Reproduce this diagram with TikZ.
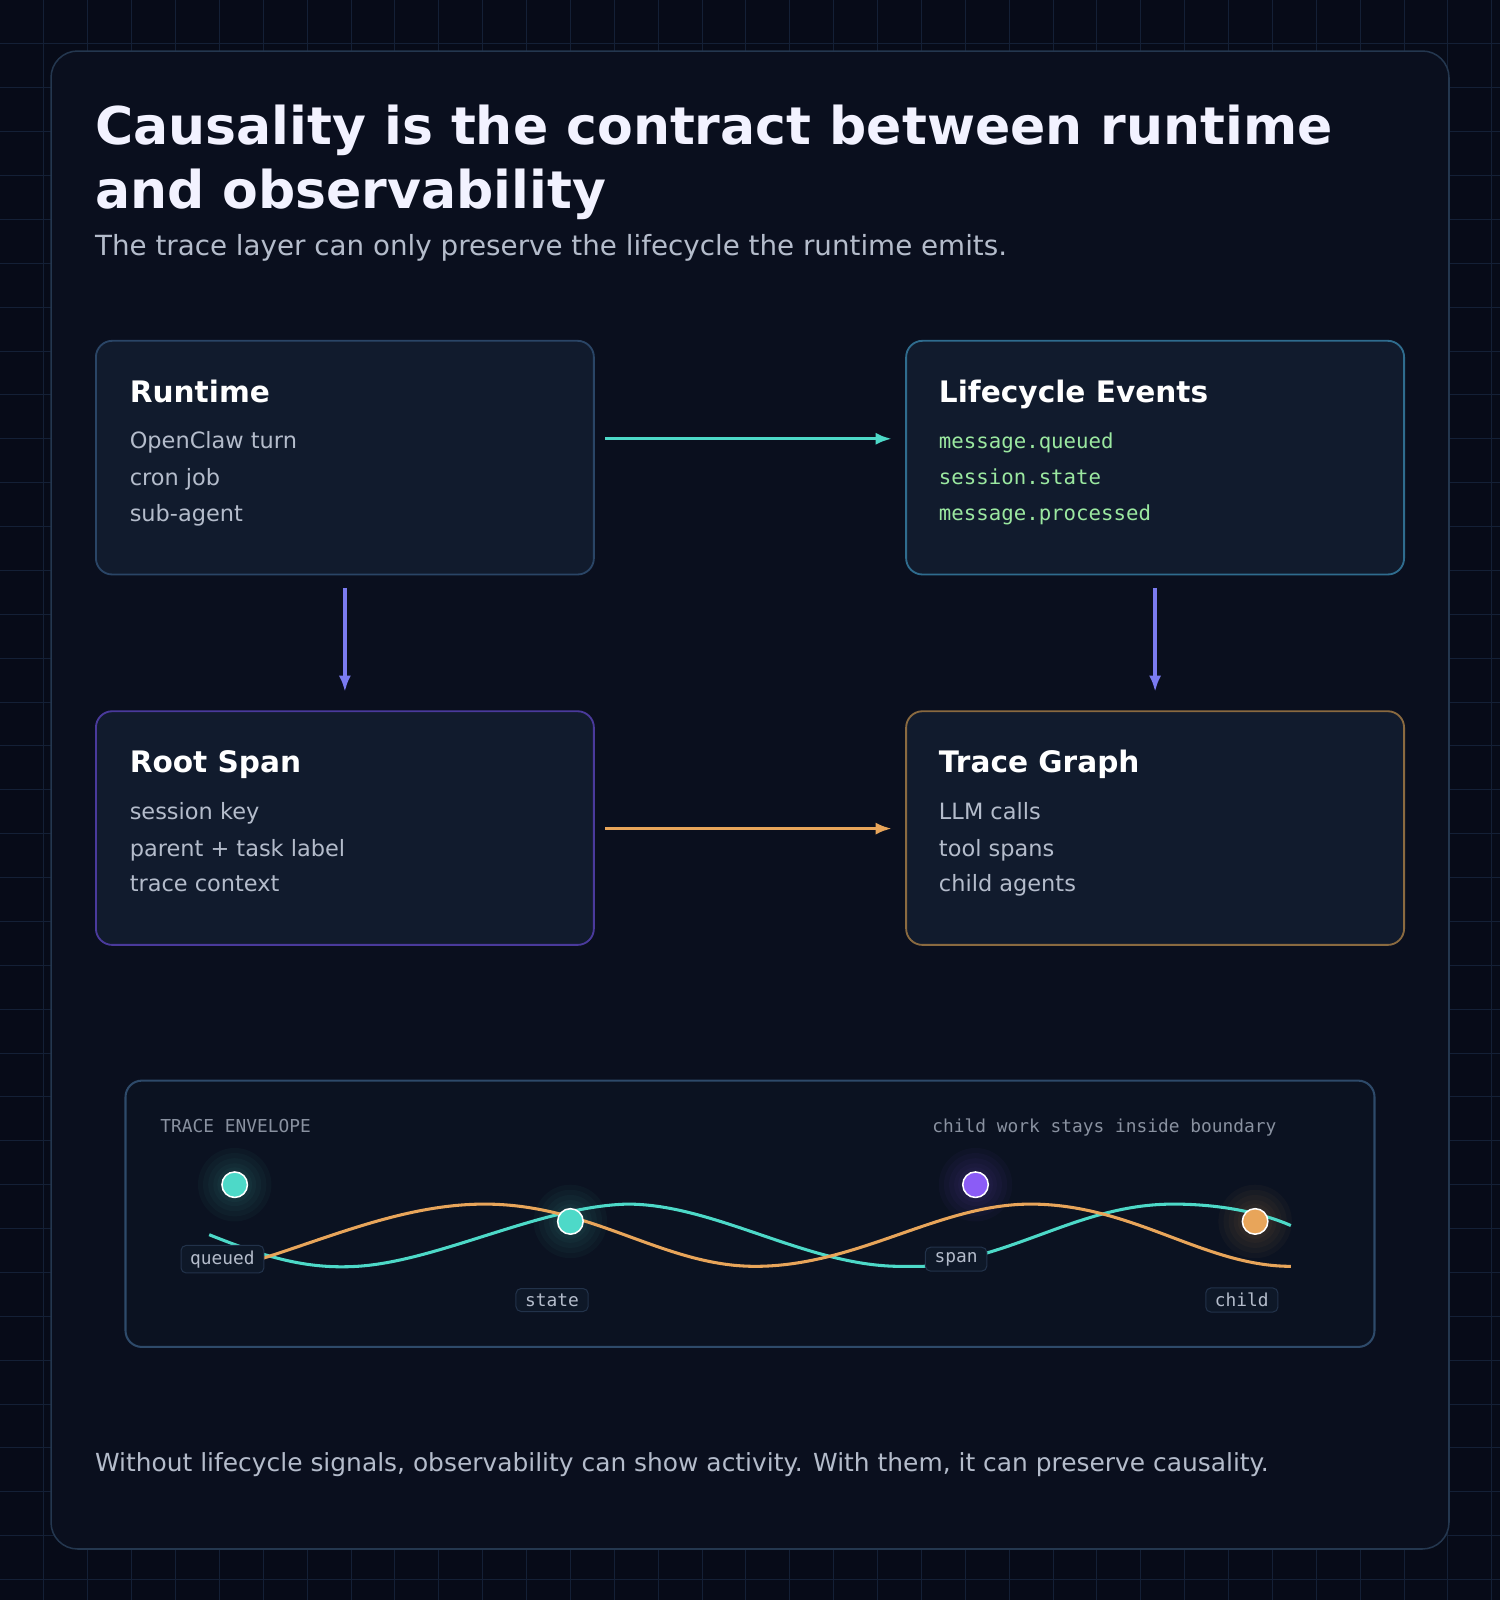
\documentclass[tikz,border=0pt]{standalone}
\usepackage{fontspec}
\setmainfont{DejaVu Sans}
\setmonofont{DejaVu Sans Mono}
\begin{document}
\begin{tikzpicture}[x=1pt,y=-1pt,
  every node/.style={inner sep=0pt},
  card/.style={draw,line width=1.8pt,rounded corners=16pt,fill=cardbg},
  ttl/.style={anchor=base west,text=white,font=\fontsize{29}{34}\selectfont\bfseries},
  itm/.style={anchor=base west,text=itemc,font=\fontsize{22}{26}\selectfont},
  mitm/.style={anchor=base west,text=greenc,font=\ttfamily\fontsize{20.3}{24}\selectfont},
  arr/.style={line width=3.2pt,-{Latex[length=16pt,width=12pt]}},
  tag/.style={draw=tagb,fill=tagbg,rounded corners=5pt,line width=1pt,text=itemc,font=\ttfamily\fontsize{17.5}{20}\selectfont,inner xsep=9pt,inner ysep=5pt},
  dot/.style={circle,draw=white,line width=1.5pt,minimum size=25pt,inner sep=0pt},
  wave/.style={line width=3pt}]
\usetikzlibrary{arrows.meta}
\definecolor{bg}{HTML}{070B18}
\definecolor{gridc}{HTML}{142036}
\definecolor{panel}{HTML}{0A0F1E}
\definecolor{panelb}{HTML}{24374F}
\definecolor{cardbg}{HTML}{111B2D}
\definecolor{itemc}{HTML}{B4BCCB}
\definecolor{greenc}{HTML}{9BE8A0}
\definecolor{teal}{HTML}{4DD9C8}
\definecolor{orng}{HTML}{E8A55A}
\definecolor{purp}{HTML}{7B7BF0}
\definecolor{vio}{HTML}{8B5CF6}
\definecolor{tagb}{HTML}{22324A}
\definecolor{tagbg}{HTML}{0E1828}
\definecolor{b1}{HTML}{2A4566}
\definecolor{b2}{HTML}{2F6C8E}
\definecolor{b3}{HTML}{4A3A9C}
\definecolor{b4}{HTML}{8A6A40}
\definecolor{b5}{HTML}{2E4A6A}
\useasboundingbox (0,0) rectangle (1470,1568);
\fill[bg] (0,0) rectangle (1470,1568);
\foreach \i in {1,...,34} {\draw[gridc,line width=1pt] (\i*43,0) -- (\i*43,1568);}
\foreach \i in {1,...,36} {\draw[gridc,line width=1pt] (0,\i*43) -- (1470,\i*43);}
\draw[panelb,fill=panel,line width=1.5pt,rounded corners=26pt] (50,50) rectangle (1420,1518);
\node[anchor=base west,text=white!95!blue,font=\fontsize{51}{62}\selectfont\bfseries] (title) at (93,142) {Causality is the contract between runtime};
\node[anchor=base west,text=white!95!blue,font=\fontsize{51}{62}\selectfont\bfseries] (title2) at (93,204) {and observability};
\node[anchor=base west,text=itemc,font=\fontsize{27.2}{30}\selectfont] (sub) at (93,250) {The trace layer can only preserve the lifecycle the runtime emits.};
% cards
\draw[card,draw=b1] (94,334) rectangle (582,563);
\draw[card,draw=b2] (888,334) rectangle (1376,563);
\draw[card,draw=b3] (94,697) rectangle (582,926);
\draw[card,draw=b4] (888,697) rectangle (1376,926);
\node[ttl] (t1) at (127,394) {Runtime};
\node[itm] (a1) at (127,440) {OpenClaw turn};
\node[itm] (a2) at (127,476) {cron job};
\node[itm] (a3) at (127,511) {sub-agent};
\node[ttl] (t2) at (920,394) {Lifecycle Events};
\node[mitm] (b1n) at (920,440) {message.queued};
\node[mitm] (b2n) at (920,475) {session.state};
\node[mitm] (b3n) at (920,510) {message.processed};
\node[ttl] (t3) at (127,757) {Root Span};
\node[itm] (c1) at (127,803) {session key};
\node[itm] (c2) at (127,839) {parent + task label};
\node[itm] (c3) at (127,874) {trace context};
\node[ttl] (t4) at (920,757) {Trace Graph};
\node[itm] (d1) at (920,803) {LLM calls};
\node[itm] (d2) at (920,839) {tool spans};
\node[itm] (d3) at (920,874) {child agents};
\coordinate (p1) at (593,430); \coordinate (p2) at (874,430);
\coordinate (q1) at (593,812); \coordinate (q2) at (874,812);
\coordinate (r1) at (338,576); \coordinate (r2) at (338,678);
\coordinate (s1) at (1132,576); \coordinate (s2) at (1132,678);
\draw[arr,teal] (p1) -- (p2);
\draw[arr,orng] (q1) -- (q2);
\draw[arr,purp] (r1) -- (r2);
\draw[arr,purp] (s1) -- (s2);
% envelope
\draw[fill=panel!70!tagbg,draw=b5,line width=2pt,rounded corners=16pt] (123,1059) rectangle (1347,1320);
\node[anchor=base west,text=itemc!75!panel,font=\ttfamily\fontsize{17.5}{20}\selectfont] (env) at (157,1110) {TRACE ENVELOPE};
\node[anchor=base east,text=itemc!75!panel,font=\ttfamily\fontsize{17.5}{20}\selectfont] (cw) at (1251,1110) {child work stays inside boundary};
% glows
\foreach \x/\y/\c in {230/1161/teal,559/1197/teal,956/1161/vio,1230/1197/orng}{
  \foreach \r in {36,31,26,21,17}{\fill[\c,opacity=0.035] (\x,\y) circle (\r);}
}
% waves
\draw[wave,teal] (205,1210) .. controls (260,1232) and (300,1244) .. (350,1241)
  .. controls (430,1236) and (530,1182) .. (615,1180)
  .. controls (700,1180) and (790,1240) .. (880,1241) -- (905,1241)
  .. controls (1000,1230) and (1060,1180) .. (1150,1180)
  .. controls (1200,1180) and (1240,1190) .. (1265,1201);
\draw[wave,orng] (258,1233) .. controls (330,1210) and (400,1180) .. (475,1180)
  .. controls (580,1180) and (650,1241) .. (740,1241)
  .. controls (840,1241) and (920,1180) .. (1010,1180)
  .. controls (1110,1180) and (1180,1241) .. (1265,1241);
\node[dot,fill=teal] (n1) at (230,1161) {};
\node[dot,fill=teal] (n2) at (559,1197) {};
\node[dot,fill=vio] (n3) at (956,1161) {};
\node[dot,fill=orng] (n4) at (1230,1197) {};
\node[tag] (l1) at (218,1234) {queued};
\node[tag] (l2) at (541,1274) {state};
\node[tag] (l3) at (937,1234) {span};
\node[tag] (l4) at (1217,1274) {child};
\node[anchor=base west,text=itemc,font=\fontsize{24.4}{28}\selectfont] (foot) at (93,1442) {Without lifecycle signals, observability can show activity. With them, it can preserve causality.};
\end{tikzpicture}
\end{document}
